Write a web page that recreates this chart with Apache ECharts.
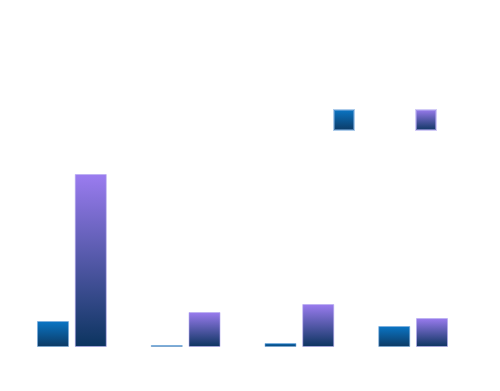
<!DOCTYPE html>
<html><head><meta charset="utf-8">
<script src="https://cdn.jsdelivr.net/npm/echarts@6/dist/echarts.min.js"></script>
<style>html,body{margin:0;padding:0;background:#fff}#c{width:500px;height:391px}</style>
</head><body><div id="c"></div>
<script>
const categories = ['A', 'B', 'C', 'D'];
const seriesNames = ['Series 1', 'Series 2'];
const series1 = [26, 2, 4, 21];
const series2 = [173, 35, 43, 29];

const chart = echarts.init(document.getElementById('c'));
function grad(top, bottom) {
  return new echarts.graphic.LinearGradient(0, 0, 0, 1, [
    { offset: 0, color: top }, { offset: 1, color: bottom }
  ]);
}
chart.setOption({
  animation: false,
  backgroundColor: '#fff',
  legend: {
    data: seriesNames,
    orient: 'horizontal',
    left: 328, top: 104, width: 300,
    icon: 'rect',
    itemWidth: 20, itemHeight: 20, itemGap: 18,
    textStyle: { color: '#fff', fontSize: 12, width: 44, overflow: 'truncate' }
  },
  grid: { left: 15, right: 30, top: 97, bottom: 44, containLabel: false },
  xAxis: {
    type: 'category', data: categories,
    axisLine: { show: false }, axisTick: { show: false }, axisLabel: { show: false }
  },
  yAxis: {
    type: 'value', min: 0, max: 250,
    axisLine: { show: false }, axisTick: { show: false }, axisLabel: { show: false },
    splitLine: { show: false }
  },
  series: [
    {
      name: seriesNames[0], type: 'bar', data: series1, barWidth: 32, barGap: '18%',
      itemStyle: { color: grad('#0a76c6', '#0c3963'), borderColor: 'rgba(120,170,220,0.6)', borderWidth: 1 }
    },
    {
      name: seriesNames[1], type: 'bar', data: series2, barWidth: 32,
      itemStyle: { color: grad('#9b7cf0', '#0b345f'), borderColor: 'rgba(180,170,240,0.6)', borderWidth: 1 }
    }
  ]
});
</script></body></html>
